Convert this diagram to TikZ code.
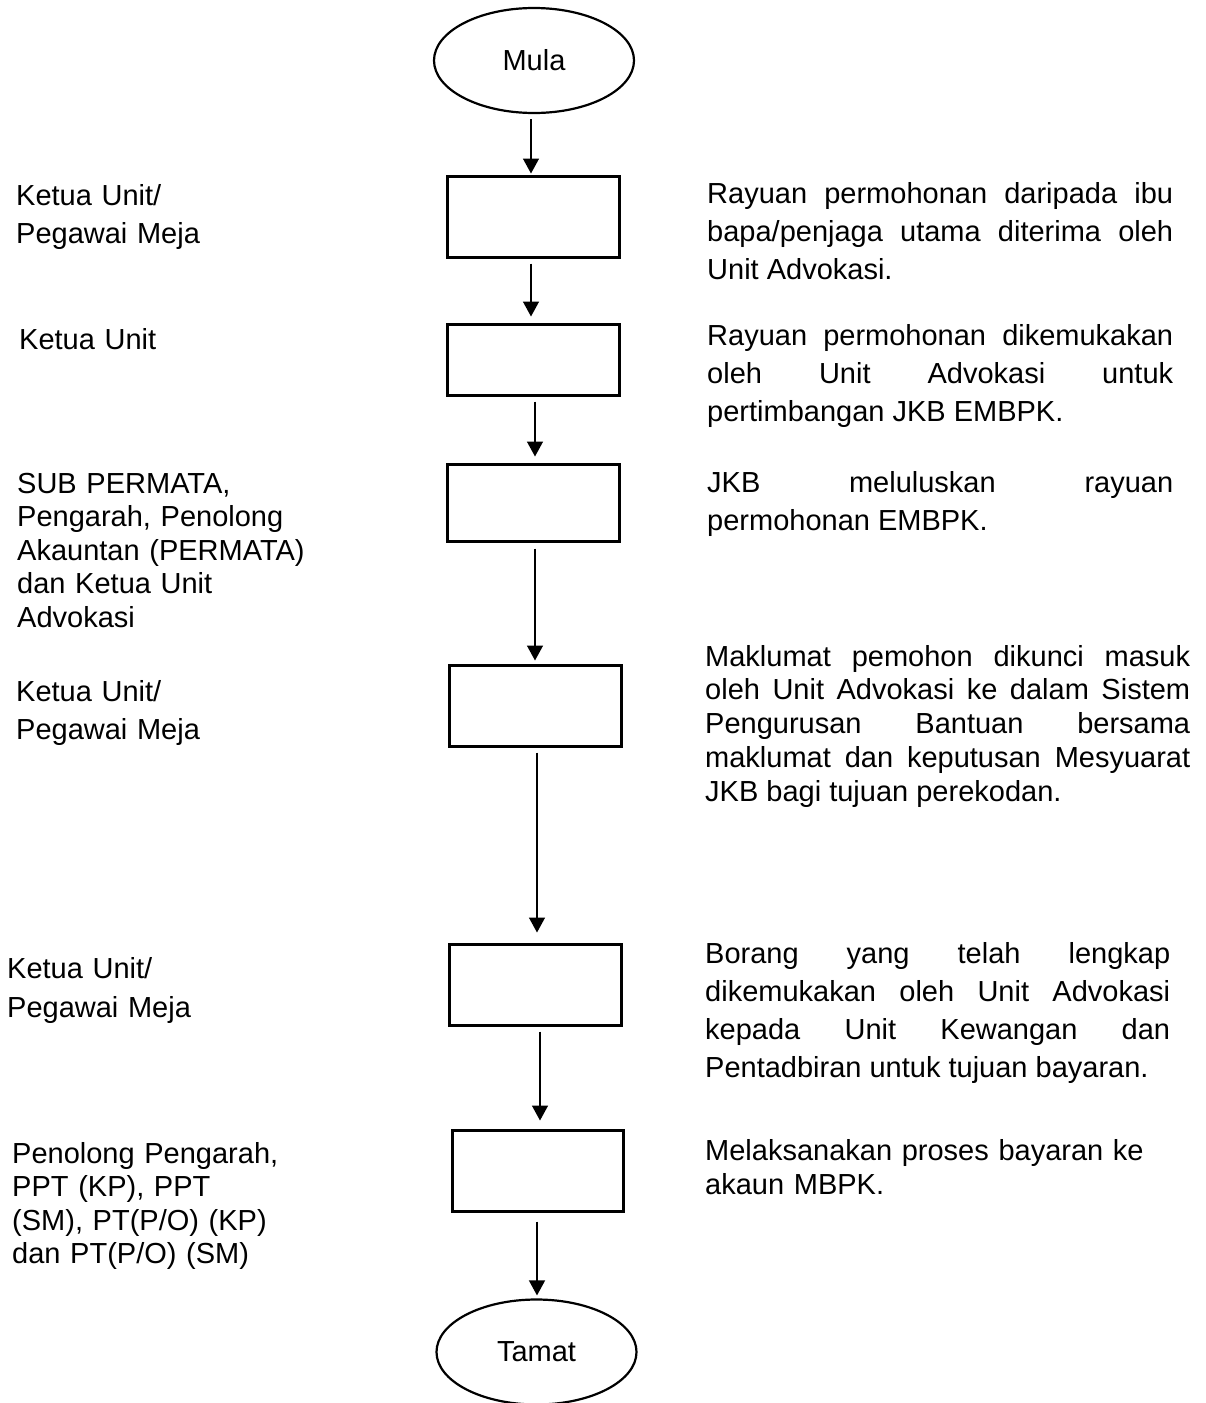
\documentclass[tikz,border=0pt]{standalone}
\usepackage{fontspec}
\setmainfont{Liberation Sans}
\usetikzlibrary{arrows.meta,shapes.geometric}
\hbadness=10000
\hfuzz=20pt
\begin{document}
\begin{tikzpicture}[x=1pt,y=-1pt,
  box/.style={draw,line width=3pt,minimum width=172pt,inner sep=0pt},
  term/.style={draw,ellipse,line width=2.2pt,minimum width=200pt,minimum height=105pt,inner sep=0pt,font=\fontsize{29}{34}\selectfont},
  arr/.style={line width=1.5pt,-{Triangle[width=16pt,length=15pt]}},
  lbl/.style={anchor=base west,inner sep=0pt,text width=#1,align=left},
  jtxt/.style={anchor=base west,inner sep=0pt,text width=#1,align=justify},
  fa/.style={font=\fontsize{29}{38}\selectfont},
  fb/.style={font=\fontsize{29}{33.5}\selectfont}
]
\useasboundingbox (0,0) rectangle (1205,1403);

% flow nodes
\node[term] (mula) at (534,60.5) {Mula};
\node[box,minimum height=81pt] (b1) at (533,216.5) {};
\node[box,minimum height=71pt] (b2) at (533,359.5) {};
\node[box,minimum height=77pt] (b3) at (533,502.5) {};
\node[box,minimum height=81pt] (b4) at (535,705.5) {};
\node[box,minimum height=81pt] (b5) at (535,984.5) {};
\node[box,minimum height=81pt,minimum width=171pt] (b6) at (537.5,1170.5) {};
\node[term] (tamat) at (536.5,1352) {Tamat};

% connectors
\draw[arr,shorten <=5pt,shorten >=1pt] ([xshift=-3pt]mula.south) -- ([xshift=-3pt]mula.south |- b1.north);
\draw[arr,shorten <=5pt,shorten >=6pt] ([xshift=-2pt]b1.south) -- ([xshift=-2pt]b1.south |- b2.north);
\draw[arr,shorten <=5pt,shorten >=6pt] ([xshift=2pt]b2.south) -- ([xshift=2pt]b2.south |- b3.north);
\draw[arr,shorten <=6pt,shorten >=3pt] ([xshift=2pt]b3.south) -- ([xshift=2pt]b3.south |- b4.north);
\draw[arr,shorten <=5pt,shorten >=10pt] ([xshift=2pt]b4.south) -- ([xshift=2pt]b4.south |- b5.north);
\draw[arr,shorten <=5pt,shorten >=8pt] ([xshift=5pt]b5.south) -- ([xshift=5pt]b5.south |- b6.north);
\draw[arr,shorten <=9pt,shorten >=3pt] ([xshift=-0.5pt]b6.south) -- ([xshift=-0.5pt]b6.south |- tamat.north);

% left column
\node[lbl=300pt,fa] (l1) at (16,205) {Ketua Unit/\\Pegawai Meja};
\node[lbl=300pt,fa] (l2) at (19,349) {Ketua Unit};
\node[lbl=320pt,fb] (l3) at (17,493) {SUB PERMATA,\\Pengarah, Penolong\\Akauntan (PERMATA)\\dan Ketua Unit\\Advokasi};
\node[lbl=300pt,fa] (l4) at (16,701) {Ketua Unit/\\Pegawai Meja};
\node[lbl=300pt,font=\fontsize{29}{39}\selectfont] (l5) at (7,978) {Ketua Unit/\\Pegawai Meja};
\node[lbl=320pt,fb] (l6) at (12,1163) {Penolong Pengarah,\\PPT (KP), PPT\\(SM), PT(P/O) (KP)\\dan PT(P/O) (SM)};

% right column
\node[jtxt=466pt,fa] (r1) at (707,203) {Rayuan permohonan daripada ibu\linebreak bapa/penjaga utama diterima oleh\linebreak Unit Advokasi.};
\node[jtxt=466pt,fa] (r2) at (707,345) {Rayuan permohonan dikemukakan\linebreak oleh Unit Advokasi untuk\linebreak pertimbangan JKB EMBPK.};
\node[jtxt=466pt,fa] (r3) at (707,492) {JKB meluluskan rayuan\linebreak permohonan EMBPK.};
\node[jtxt=485pt,font=\fontsize{29}{33.8}\selectfont] (r4) at (705,666) {Maklumat pemohon dikunci masuk\linebreak oleh Unit Advokasi ke dalam Sistem\linebreak Pengurusan Bantuan bersama\linebreak maklumat dan keputusan Mesyuarat\linebreak JKB bagi tujuan perekodan.};
\node[jtxt=465pt,font=\fontsize{29}{38.3}\selectfont] (r5) at (705,963) {Borang yang telah lengkap\linebreak dikemukakan oleh Unit Advokasi\linebreak kepada Unit Kewangan dan\linebreak Pentadbiran untuk tujuan bayaran.};
\node[lbl=500pt,font=\fontsize{29}{34}\selectfont] (r6) at (705,1160) {Melaksanakan proses bayaran ke\\akaun MBPK.};
\end{tikzpicture}
\end{document}
